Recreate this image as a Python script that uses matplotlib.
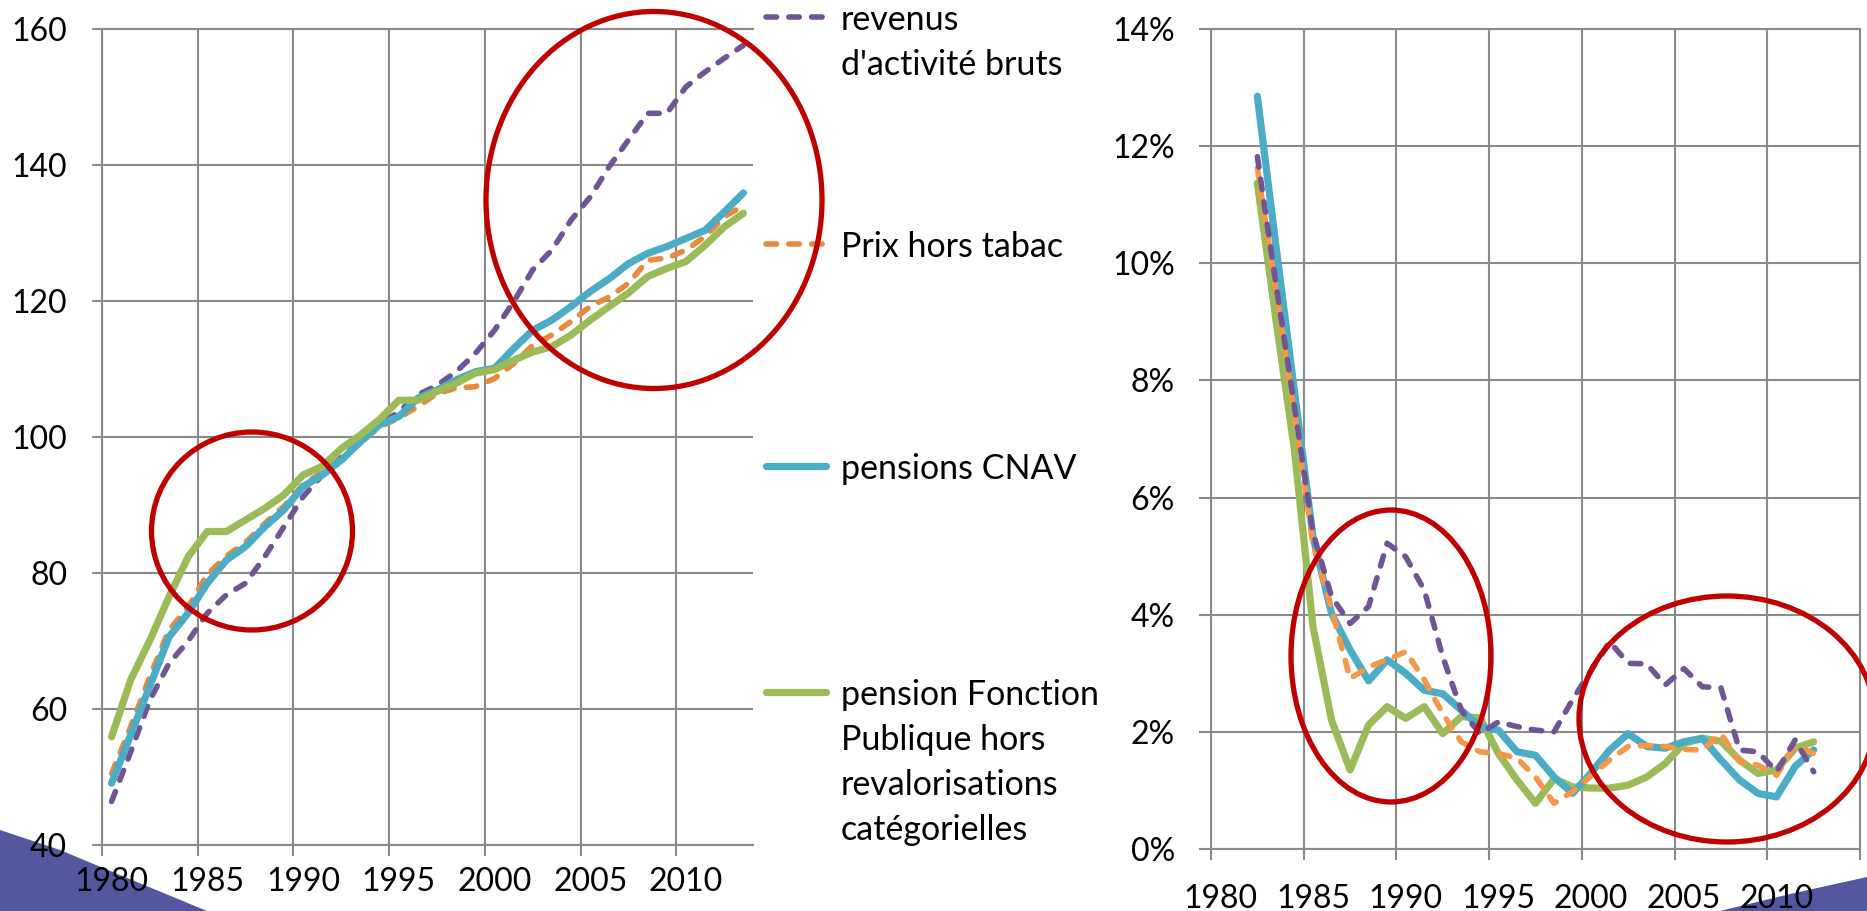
import matplotlib
matplotlib.use("Agg")
import matplotlib.pyplot as plt
import matplotlib.transforms as mtransforms
from matplotlib.lines import Line2D
from matplotlib.patches import Ellipse, Polygon
from matplotlib.ticker import FixedLocator, FuncFormatter

plt.rcParams['font.family'] = ['Lato', 'DejaVu Sans']

# --- données : indices base 100 en 1993 (graphique de gauche) ---
annees_g = list(range(1980, 2014))
revenus_g = [46.4, 53.7, 61.3, 66.7, 70.0, 74.1, 76.8, 78.5, 82.4, 86.8, 91.2, 94.4,
             97.0, 99.6, 101.8, 103.7, 106.2, 107.6, 109.6, 112.3, 115.7, 119.9, 124.6,
             127.5, 131.9, 135.3, 139.8, 143.7, 147.6, 147.6, 151.5, 153.7, 155.7, 157.6]
prix_g = [50.5, 57.4, 64.8, 71.6, 75.0, 79.8, 82.5, 84.5, 87.3, 89.8, 93.0, 94.8,
          96.8, 99.2, 101.5, 102.8, 104.5, 106.4, 107.2, 107.4, 108.6, 110.8, 113.5,
          115.0, 117.0, 119.2, 120.6, 122.6, 126.0, 126.3, 127.5, 129.5, 132.4, 134.0]
cnav_g = [49.1, 56.2, 63.4, 70.6, 74.1, 78.5, 81.9, 83.9, 86.8, 89.3, 92.7, 94.4,
          96.6, 99.3, 101.8, 103.0, 105.7, 106.9, 108.4, 109.6, 110.1, 113.0, 115.7,
          117.2, 119.2, 121.4, 123.3, 125.5, 127.0, 128.0, 129.2, 130.4, 133.1, 135.9]
fp_g = [55.9, 64.3, 70.1, 76.5, 82.4, 86.1, 86.1, 87.8, 89.5, 91.5, 94.4, 95.7,
        98.3, 100.3, 102.6, 105.4, 105.4, 106.7, 107.9, 109.4, 109.9, 111.3, 112.5,
        113.3, 115.0, 117.2, 119.2, 121.2, 123.6, 124.8, 125.8, 128.2, 130.9, 132.9]

# --- données : taux de croissance annuels en % (graphique de droite) ---
annees_d = list(range(1982, 2013))
revenus_d = [11.82, 9.65, 7.55, 5.4, 4.31, 3.85, 4.14, 5.22, 4.99, 4.42, 3.28, 2.37,
             1.97, 2.17, 2.09, 2.03, 2.0, 2.55, 3.05, 3.54, 3.17, 3.16, 2.8, 3.08,
             2.77, 2.75, 1.69, 1.66, 1.32, 1.86, 1.32]
prix_d = [11.63, 9.55, 7.45, 5.2, 4.1, 2.91, 3.11, 3.23, 3.37, 2.89, 2.31, 1.83,
          1.66, 1.63, 1.55, 1.23, 0.78, 0.98, 1.25, 1.52, 1.75, 1.77, 1.75, 1.70,
          1.69, 1.97, 1.49, 1.43, 1.26, 1.77, 1.63]
cnav_d = [12.85, 10.3, 7.82, 5.33, 4.02, 3.4, 2.87, 3.23, 3.0, 2.71, 2.65, 2.37,
          2.09, 2.03, 1.66, 1.6, 1.23, 0.95, 1.3, 1.69, 1.97, 1.75, 1.72, 1.83,
          1.89, 1.52, 1.18, 0.95, 0.89, 1.41, 1.69]
fp_d = [11.37, 9.04, 6.81, 3.8, 2.2, 1.35, 2.12, 2.43, 2.23, 2.43, 1.97, 2.26,
        2.24, 1.63, 1.18, 0.78, 1.2, 1.06, 1.04, 1.04, 1.09, 1.23, 1.46, 1.8,
        1.89, 1.84, 1.52, 1.29, 1.35, 1.72, 1.83]

etiquettes = [1980, 1985, 1990, 1995, 2000, 2005, 2010]
legende = [
    (["revenus", "d'activité bruts"], '#6F5596', True),
    (["Prix hors tabac"], '#E8893D', True),
    (["pensions CNAV"], '#4BACC6', False),
    (["pension Fonction", "Publique hors", "revalorisations", "catégorielles"], '#9BBB59', False),
]

W, H = 1867, 911
GRIS = '#8A8A8A'
DASH = (0, (1.9, 2.2))

fig = plt.figure(figsize=(W / 100, H / 100), dpi=100)
px = mtransforms.Affine2D().scale(1 / W, -1 / H).translate(0, 1) + fig.transFigure


def box(x0, y0, x1, y1):
    return [x0 / W, 1 - y1 / H, (x1 - x0) / W, (y1 - y0) / H]


def style_axe(ax, xmax, ylim, yticks, ypad, xpad, ylen):
    ax.set_xlim(1979.5, xmax)
    ax.set_ylim(*ylim)
    ax.xaxis.set_major_locator(FixedLocator([1979.5 + 5 * k for k in range(8) if 1979.5 + 5 * k <= xmax]))
    ax.xaxis.set_minor_locator(FixedLocator(etiquettes))
    ax.xaxis.set_major_formatter(FuncFormatter(lambda v, p: ''))
    ax.xaxis.set_minor_formatter(FuncFormatter(lambda v, p: str(int(round(v)))))
    ax.set_yticks(yticks)
    ax.tick_params(axis='x', which='major', length=8, width=1.5, color=GRIS, direction='out')
    ax.tick_params(axis='x', which='minor', length=0, pad=xpad, labelsize=23)
    ax.tick_params(axis='y', length=ylen, width=1.5, color=GRIS, pad=ypad, labelsize=23)
    ax.grid(True, which='major', color=GRIS, lw=1.5)
    ax.set_axisbelow(True)
    for s in ax.spines.values():
        s.set_color(GRIS)
        s.set_linewidth(1.5)


# --- graphique de gauche ---
ax1 = fig.add_axes(box(102, 29, 753, 845))
ax1.plot(annees_g, revenus_g, color='#6F5596', lw=4, ls=DASH, dash_capstyle='round')
ax1.plot(annees_g, prix_g, color='#E8893D', lw=4, ls=DASH, dash_capstyle='round')
ax1.plot(annees_g, cnav_g, color='#4BACC6', lw=5.2, solid_capstyle='round')
ax1.plot(annees_g, fp_g, color='#9BBB59', lw=5.2, solid_capstyle='round')
style_axe(ax1, 2013.5, (40, 160), range(40, 161, 20), 18, 16, 7)
ax1.spines['right'].set_visible(False)

# --- graphique de droite ---
ax2 = fig.add_axes(box(1211, 29, 1860, 849))
ax2.plot(annees_d, fp_d, color='#9BBB59', lw=5.2, solid_capstyle='round')
ax2.plot(annees_d, cnav_d, color='#4BACC6', lw=5.2, solid_capstyle='round')
ax2.plot(annees_d, prix_d, color='#F79646', lw=4, ls=DASH, dash_capstyle='round')
ax2.plot(annees_d, revenus_d, color='#6F5596', lw=4, ls=DASH, dash_capstyle='round')
style_axe(ax2, 2014.5, (0, 14), range(0, 15, 2), 17, 25, 9)
ax2.yaxis.set_major_formatter(FuncFormatter(lambda v, p: f"{v:.0f}%"))

# --- légende (ligne d'exemple alignée sur la première ligne du texte) ---
ys_poignee = [17, 244, 466, 692]
for (lignes, couleur, tirets), yh in zip(legende, ys_poignee):
    kw = dict(ls=DASH, dash_capstyle='round', lw=4) if tirets else dict(lw=5.2, solid_capstyle='round')
    fig.add_artist(Line2D([766, 826], [yh, yh], color=couleur, transform=px, **kw))
    for i, ligne in enumerate(lignes):
        fig.text(841, yh + 13 + 45 * i, ligne, transform=px, fontsize=24.5,
                 va='baseline', ha='left')

# --- ellipses rouges ---
for cx, cy, w, h in [(654, 200, 336, 377), (252, 531, 201, 198),
                     (1391, 656, 200, 292), (1727, 719, 296, 246)]:
    fig.add_artist(Ellipse((cx, cy), w, h, transform=px, fill=False,
                           ec='#C00000', lw=3.8, zorder=10))

# --- décor bleu du bandeau ---
fig.add_artist(Polygon([(0, 830), (60, 850), (120, 875), (207, 911), (0, 911)],
                       closed=True, transform=px, fc='#53579F', ec='none', zorder=-1))
fig.add_artist(Polygon([(1720, 911), (1790, 894), (1867, 877), (1867, 911)],
                       closed=True, transform=px, fc='#53579F', ec='none', zorder=-1))

fig.savefig('out.png', dpi=100, facecolor='white')
